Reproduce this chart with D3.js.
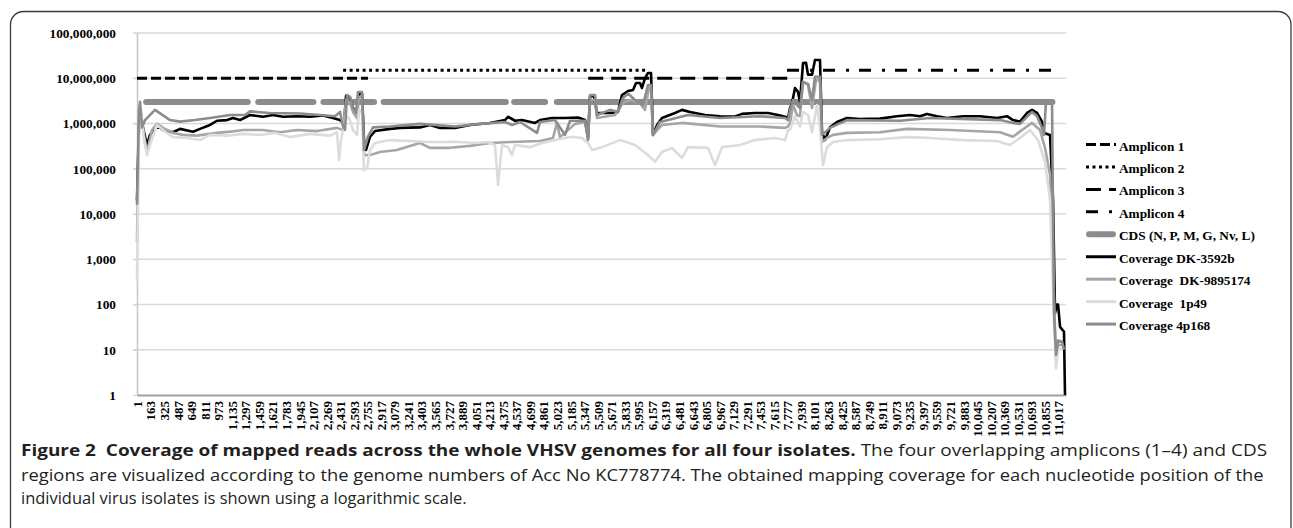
<!DOCTYPE html>
<html>
<head>
<meta charset="utf-8">
<script src="https://cdn.jsdelivr.net/npm/d3@7"></script>
<style>
body { margin: 0; background: #fff; }
svg { display: block; }
.tick-serif text { font-family: "Liberation Serif", "Times New Roman", serif; font-weight: bold; fill: #000; }
</style>
</head>
<body>
<svg id="chart" width="1293" height="528"></svg>
<script>
// ---- data (nucleotide position, coverage) ----
const xTickLabels = d3.range(1, 11018, 162);   // Excel category labels every 162 nt
const yTickValues = [1, 10, 100, 1000, 10000, 100000, 1000000, 10000000, 100000000];

const ampliconNames = ['Amplicon 1', 'Amplicon 2', 'Amplicon 3', 'Amplicon 4'];
const ampliconStart = [1, 2465, 5395, 7772];
const ampliconEnd = [2763, 6110, 7790, 11012];
const ampliconLevel = [1e7, 1.5e7, 1e7, 1.5e7];

const cdsName = 'CDS (N, P, M, G, Nv, L)';
const cdsLevel = 3e6;
const cdsGenes = [['N', 110, 1325], ['P', 1450, 2110], ['M', 2230, 2835], ['G', 2950, 4410], ['Nv', 4510, 4880], ['L', 5020, 10945]];

const covDK3592b = [
  [1, 2.0e4], [25, 9.3e5], [49, 1.19e6], [73, 8.0e5], [121, 3.35e5], [156, 5.6e5], [216, 8.0e5], [276, 8.2e5],
  [312, 7.2e5], [431, 6.4e5], [515, 7.6e5], [670, 6.6e5], [754, 7.6e5], [874, 9.3e5], [957, 1.15e6], [1077, 1.19e6],
  [1149, 1.32e6], [1232, 1.19e6], [1352, 1.54e6], [1507, 1.41e6], [1627, 1.54e6], [1746, 1.41e6], [1914, 1.45e6],
  [2069, 1.41e6], [2225, 1.5e6], [2344, 1.32e6], [2428, 1.19e6], [2476, 9.8e5], [2500, 4.1e6], [2547, 3.7e6],
  [2583, 2.2e6], [2631, 1.8e6], [2655, 4.6e6], [2691, 4.6e6], [2715, 4.3e5], [2739, 2.6e5], [2787, 5.1e5],
  [2846, 6.8e5], [3026, 7.6e5], [3145, 8.0e5], [3384, 8.2e5], [3504, 9.3e5], [3623, 8.0e5], [3803, 8.0e5],
  [3982, 9.3e5], [4221, 1.03e6], [4400, 1.19e6], [4436, 1.41e6], [4520, 1.15e6], [4604, 1.19e6], [4759, 1.03e6],
  [4819, 1.19e6], [4962, 1.32e6], [5118, 1.32e6], [5273, 1.36e6], [5357, 1.19e6], [5393, 4.8e5], [5417, 4.0e6],
  [5465, 4.0e6], [5500, 1.71e6], [5656, 1.71e6], [5751, 1.8e6], [5799, 4.27e6], [5871, 5.2e6], [5931, 5.5e6],
  [5967, 7.85e6], [6014, 7.85e6], [6038, 6.1e6], [6074, 1.0e7], [6110, 1.31e7], [6146, 1.31e7], [6170, 5.6e5],
  [6218, 9.3e5], [6277, 1.32e6], [6433, 1.71e6], [6516, 2.0e6], [6612, 1.8e6], [6791, 1.54e6], [6971, 1.45e6],
  [7150, 1.43e6], [7234, 1.63e6], [7389, 1.71e6], [7545, 1.71e6], [7664, 1.54e6], [7748, 1.41e6], [7784, 1.32e6],
  [7808, 2.2e6], [7832, 2.85e6], [7867, 6.1e6], [7903, 5.0e6], [7927, 3.0e6], [7963, 2.17e7], [7999, 2.2e7],
  [8023, 1.2e7], [8071, 1.2e7], [8106, 2.53e7], [8166, 2.53e7], [8190, 6.4e5], [8226, 4.3e5], [8286, 8.2e5],
  [8369, 1.08e6], [8489, 1.32e6], [8644, 1.26e6], [8883, 1.28e6], [9087, 1.45e6], [9242, 1.54e6], [9362, 1.45e6],
  [9445, 1.63e6], [9565, 1.45e6], [9684, 1.32e6], [9876, 1.45e6], [10079, 1.45e6], [10282, 1.32e6], [10402, 1.45e6],
  [10474, 1.19e6], [10557, 1.1e6], [10641, 1.71e6], [10701, 2.0e6], [10761, 1.71e6], [10820, 1.1e6], [10844, 6.2e5],
  [10916, 5.6e5], [10952, 2.0e4], [10976, 65], [11000, 100], [11012, 100], [11036, 32], [11083, 25], [11095, 1]
];

const covDK9895174 = [
  [1, 2.4e3], [25, 1.19e6], [49, 1.71e6], [85, 5.6e5], [121, 2.34e5], [180, 7.2e5], [240, 9.8e5], [312, 8.0e5],
  [431, 6.2e5], [551, 5.6e5], [718, 5.4e5], [957, 6.2e5], [1113, 6.6e5], [1268, 7.2e5], [1507, 7.2e5], [1710, 6.4e5],
  [1914, 7.2e5], [2153, 6.8e5], [2392, 8.0e5], [2464, 7.2e5], [2500, 3.3e6], [2547, 2.85e6], [2583, 1.8e6],
  [2631, 1.32e6], [2655, 3.9e6], [2691, 3.9e6], [2715, 2.0e5], [2787, 2.0e5], [2906, 2.34e5], [3109, 2.6e5],
  [3265, 3.2e5], [3384, 3.7e5], [3504, 2.9e5], [3743, 2.9e5], [3982, 3.2e5], [4221, 3.7e5], [4460, 3.9e5],
  [4819, 4.1e5], [4974, 4.8e5], [5022, 1.03e6], [5058, 5.0e5], [5238, 9.8e5], [5357, 1.08e6], [5393, 4.8e5],
  [5417, 3.3e6], [5477, 3.3e6], [5500, 1.32e6], [5716, 1.54e6], [5811, 2.85e6], [5895, 3.3e6], [6014, 2.85e6],
  [6074, 2.0e6], [6122, 6.1e6], [6146, 6.1e6], [6170, 5.6e5], [6277, 9.3e5], [6516, 1.03e6], [6971, 8.6e5],
  [7449, 8.6e5], [7748, 8.0e5], [7784, 8.6e5], [7808, 1.03e6], [7844, 2.56e6], [7891, 1.54e6], [7927, 1.45e6],
  [7963, 8.3e6], [8023, 7.1e6], [8071, 2.2e6], [8118, 9.1e6], [8166, 9.1e6], [8190, 3.9e5], [8250, 4.8e5],
  [8322, 5.6e5], [8489, 6.2e5], [8883, 6.4e5], [9206, 7.6e5], [9720, 7.2e5], [10318, 6.4e5], [10474, 5.1e5],
  [10581, 7.2e5], [10701, 1.03e6], [10796, 7.2e5], [10856, 2.9e5], [10916, 7.4e4], [10964, 126], [10988, 5.9],
  [11012, 12.7], [11071, 12.7]
];

const cov1p49 = [
  [1, 310], [25, 7.2e5], [49, 1.8e6], [85, 4.3e5], [121, 2.0e5], [156, 3.35e5], [240, 9.3e5], [312, 7.2e5],
  [431, 5.0e5], [599, 4.8e5], [754, 4.3e5], [874, 5.6e5], [1077, 5.4e5], [1268, 5.9e5], [1472, 5.6e5], [1651, 6.2e5],
  [1830, 5.0e5], [2069, 5.9e5], [2308, 5.4e5], [2392, 6.4e5], [2416, 1.56e5], [2440, 4.3e5], [2500, 1.54e6],
  [2547, 1.19e6], [2583, 7.2e5], [2631, 5.6e5], [2655, 2.0e6], [2691, 1.8e6], [2715, 9.3e4], [2751, 1.04e5],
  [2787, 2.6e5], [2846, 3.7e5], [3026, 4.3e5], [3265, 4.1e5], [3504, 3.9e5], [3803, 3.96e5], [4041, 3.7e5],
  [4197, 3.9e5], [4281, 3.35e5], [4317, 4.4e4], [4365, 3.35e5], [4436, 3.0e5], [4484, 2.0e5], [4520, 3.35e5],
  [4699, 3.0e5], [4843, 3.7e5], [4998, 4.3e5], [5202, 5.1e5], [5321, 4.8e5], [5393, 3.7e5], [5441, 2.6e5],
  [5560, 3.0e5], [5775, 4.3e5], [5955, 3.35e5], [6110, 2.0e5], [6194, 1.43e5], [6277, 2.34e5], [6397, 2.9e5],
  [6516, 1.73e5], [6588, 3.0e5], [6827, 2.9e5], [6911, 1.21e5], [6995, 3.0e5], [7210, 3.35e5], [7389, 4.3e5],
  [7628, 4.8e5], [7748, 4.3e5], [7784, 7.2e5], [7808, 7.2e5], [7867, 1.45e6], [7927, 8.6e5], [7963, 1.8e6],
  [8023, 1.54e6], [8071, 6.4e5], [8130, 2.56e6], [8166, 8.0e5], [8202, 1.21e5], [8250, 3.0e5], [8322, 3.9e5],
  [8489, 4.3e5], [8883, 4.5e5], [9206, 5.0e5], [9481, 4.8e5], [9876, 4.3e5], [10282, 4.1e5], [10438, 3.35e5],
  [10557, 4.8e5], [10677, 7.2e5], [10773, 4.3e5], [10856, 1.4e5], [10916, 2.0e4], [10964, 45], [10988, 3.9],
  [11012, 10], [11071, 11]
];

const cov4p168 = [
  [1, 1.6e4], [25, 2.0e6], [37, 3.0e6], [61, 8.2e5], [97, 1.19e6], [216, 2.0e6], [396, 1.19e6], [515, 1.1e6],
  [695, 1.19e6], [874, 1.32e6], [1113, 1.54e6], [1292, 1.54e6], [1352, 1.85e6], [1591, 1.71e6], [1950, 1.66e6],
  [2189, 1.54e6], [2368, 1.45e6], [2428, 1.8e6], [2464, 8.6e5], [2488, 7.2e5], [2512, 4.27e6], [2547, 3.9e6],
  [2583, 2.2e6], [2619, 1.71e6], [2643, 4.97e6], [2691, 4.97e6], [2715, 2.6e5], [2763, 5.1e5], [2823, 8.2e5],
  [3026, 8.6e5], [3384, 9.8e5], [3803, 8.6e5], [4101, 9.8e5], [4400, 1.08e6], [4484, 9.3e5], [4580, 1.08e6],
  [4783, 6.2e5], [4819, 1.08e6], [4998, 1.19e6], [5118, 5.6e5], [5178, 1.15e6], [5357, 1.15e6], [5393, 4.3e5],
  [5417, 4.27e6], [5477, 4.27e6], [5500, 1.54e6], [5656, 2.0e6], [5751, 1.8e6], [5811, 3.66e6], [5871, 4.6e6],
  [5955, 3.3e6], [6050, 2.56e6], [6110, 7.1e6], [6146, 7.1e6], [6170, 5.6e5], [6254, 1.08e6], [6588, 1.54e6],
  [6971, 1.32e6], [7449, 1.45e6], [7748, 1.32e6], [7784, 1.19e6], [7808, 2.0e6], [7844, 3.3e6], [7891, 2.56e6],
  [7927, 2.2e6], [7963, 8.3e6], [8023, 7.5e6], [8071, 3.3e6], [8106, 1.07e7], [8166, 1.07e7], [8190, 5.6e5],
  [8286, 8.0e5], [8489, 1.19e6], [9123, 1.15e6], [9481, 1.32e6], [10318, 1.19e6], [10474, 1.03e6], [10557, 9.8e5],
  [10701, 1.8e6], [10761, 1.45e6], [10820, 8.0e5], [10844, 5.6e5], [10868, 3.0e6], [10940, 3.0e6], [10952, 9.5e3],
  [10964, 65], [10988, 7.7], [11012, 16], [11060, 15], [11083, 10]
];

const coverageNames = ['Coverage DK-3592b', 'Coverage  DK-9895174', 'Coverage  1p49', 'Coverage 4p168'];
const coverageData = [covDK3592b, covDK9895174, cov1p49, cov4p168];

const captionLines = [
  [['Figure 2  Coverage of mapped reads across the whole VHSV genomes for all four isolates.', true],
   [' The four overlapping amplicons (1\u20134) and CDS', false]],
  [['regions are visualized according to the genome numbers of Acc No KC778774. The obtained mapping coverage for each nucleotide position of the', false]],
  [['individual virus isolates is shown using a logarithmic scale.', false]]
];

// ---- styles ----
const ampDash = ['10,4', '3,3.5', '15,8', '12,11,3,10'];
const covColor = ['#000000', '#a6a6a6', '#dcdcdc', '#8c8c8c'];
const cdsColor = '#8c8c8c';
const serif = '"Liberation Serif", "Times New Roman", serif';

// ---- chart ----
const svg = d3.select('#chart');
const plot = {left: 137, right: 1066, top: 33, bottom: 395};

const x = d3.scaleLinear().domain([1, 11107]).range([plot.left, plot.right]);
const y = d3.scaleLog().domain([1, 1e8]).range([plot.bottom, plot.top]);

svg.append('rect').attr('width', 1293).attr('height', 528).attr('fill', '#fff');
svg.append('rect')
    .attr('x', 10.5).attr('y', 11.5)
    .attr('width', 1280.5).attr('height', 620)
    .attr('rx', 13)
    .attr('fill', 'none').attr('stroke', '#3a3a3a').attr('stroke-width', 1.3);

// gridlines
svg.append('g').selectAll('line')
    .data(yTickValues.slice(1))
    .enter().append('line')
    .attr('x1', plot.left - 4).attr('x2', plot.right)
    .attr('y1', d => y(d)).attr('y2', d => y(d))
    .attr('stroke', '#d9d9d9').attr('stroke-width', 1.3);

// y axis
svg.append('g')
    .attr('class', 'tick-serif')
    .attr('transform', 'translate(' + plot.left + ',0)')
    .call(d3.axisLeft(y).tickValues(yTickValues).tickFormat(d3.format(',')).tickSize(4).tickSizeOuter(0).tickPadding(17))
    .call(g => {
        g.select('.domain').attr('stroke', '#c8c8c8').attr('stroke-width', 1.5)
        g.selectAll('.tick line').attr('stroke', '#d9d9d9').attr('stroke-width', 1.3)
        g.selectAll('text').attr('font-size', 13.3).attr('font-family', serif)
    });

// x axis
svg.append('g')
    .attr('class', 'tick-serif')
    .attr('transform', 'translate(0,' + plot.bottom + ')')
    .call(d3.axisBottom(x).tickValues(xTickLabels).tickFormat(d3.format(',')).tickSize(0).tickSizeOuter(0))
    .call(g => {
        g.select('.domain').attr('stroke', '#a0a0a0').attr('stroke-width', 2.2)
        g.selectAll('text')
            .attr('font-size', 13).attr('font-family', serif)
            .attr('transform', 'rotate(-90)')
            .attr('text-anchor', 'end')
            .attr('x', -6).attr('y', 0).attr('dy', '0.34em')
    });

const line = d3.line().x(d => x(d[0])).y(d => y(d[1]));

// amplicons
ampliconNames.forEach((name, i) => {
    svg.append('path')
        .attr('d', line([[ampliconStart[i], ampliconLevel[i]], [ampliconEnd[i], ampliconLevel[i]]]))
        .attr('fill', 'none').attr('stroke', '#000').attr('stroke-width', 3)
        .attr('stroke-dasharray', ampDash[i]);
});

// CDS
svg.append('g').selectAll('path')
    .data(cdsGenes)
    .enter().append('path')
    .attr('d', d => line([[d[1], cdsLevel], [d[2], cdsLevel]]))
    .attr('fill', 'none').attr('stroke', cdsColor).attr('stroke-width', 6)
    .attr('stroke-linecap', 'round');

// coverage
coverageData.forEach((data, i) => {
    svg.append('path')
        .datum(data)
        .attr('d', line)
        .attr('fill', 'none')
        .attr('stroke', covColor[i])
        .attr('stroke-width', 2.6)
        .attr('stroke-linejoin', 'round');
});

// legend
const legendItems = ampliconNames.map((n, i) => ({name: n, color: '#000', width: 3, dash: ampDash[i], cap: 'butt'}))
    .concat([{name: cdsName, color: cdsColor, width: 6, dash: null, cap: 'round'}])
    .concat(coverageNames.map((n, i) => ({name: n, color: covColor[i], width: 3, dash: null, cap: 'butt'})));

const legend = svg.append('g').attr('transform', 'translate(1086,150.5)');
legendItems.forEach((d, i) => {
    const row = legend.append('g').attr('transform', 'translate(0,' + (i * 22.45) + ')');
    row.append('line')
        .attr('x1', d.cap === 'round' ? 3 : 0).attr('x2', d.cap === 'round' ? 27 : 30)
        .attr('y1', -6).attr('y2', -6)
        .attr('stroke', d.color).attr('stroke-width', d.width)
        .attr('stroke-linecap', d.cap)
        .attr('stroke-dasharray', d.dash);
    row.append('text')
        .attr('x', 33).attr('y', 0)
        .attr('font-family', serif).attr('font-weight', 'bold').attr('font-size', 13.3)
        .style('white-space', 'pre')
        .text(d.name);
});

// caption
const captionTargets = [1247, 1244, 446];
const captionBase = [456, 481, 504];
captionLines.forEach((parts, i) => {
    const t = svg.append('text')
        .attr('font-family', '"Open Sans", "Noto Sans", sans-serif')
        .attr('font-size', 15.5)
        .attr('fill', '#231f20')
        .style('white-space', 'pre');
    parts.forEach(p => {
        t.append('tspan').attr('font-weight', p[1] ? 'bold' : 'normal').text(p[0]);
    });
    const w = t.node().getComputedTextLength();
    t.attr('transform', 'translate(21,' + captionBase[i] + ') scale(' + (captionTargets[i] / w) + ',1)');
});
</script>
</body>
</html>
